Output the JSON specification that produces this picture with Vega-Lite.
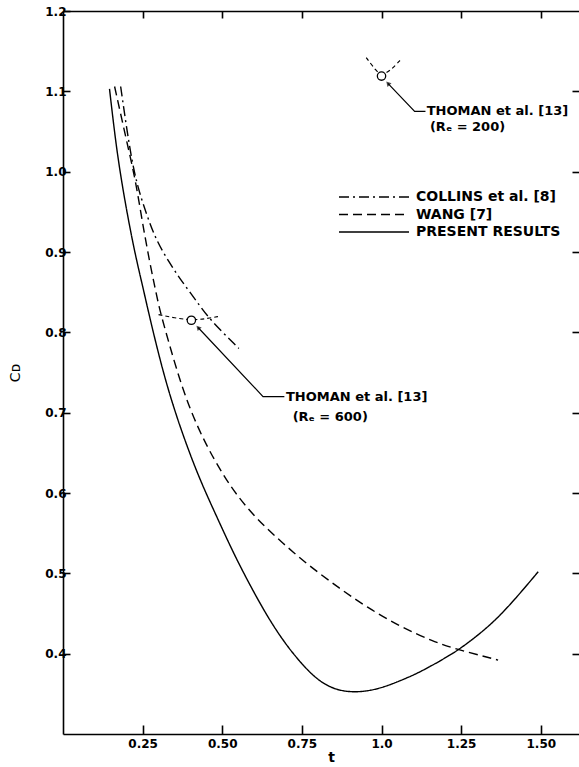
{
  "$schema": "https://vega.github.io/schema/vega-lite/v6.json",
  "autosize": {"type": "none"},
  "padding": {"left": 63, "top": 11, "right": 0, "bottom": 33},
  "width": 516,
  "height": 723,
  "background": "white",
  "config": {
    "view": {"stroke": null},
    "font": "DejaVu Sans",
    "axis": {"domainColor": "black", "domainWidth": 1.6, "tickColor": "black", "tickWidth": 1.6, "labelColor": "black", "labelFontSize": 12, "labelFontWeight": "bold", "labelFont": "DejaVu Sans", "grid": false, "labelFlush": false, "labelOverlap": false, "titleColor": "black"}
  },
  "datasets": {
    "curves": [
      {"series": "PRESENT RESULTS", "t": 0.146, "cd": 1.103},
      {"series": "PRESENT RESULTS", "t": 0.167, "cd": 1.031},
      {"series": "PRESENT RESULTS", "t": 0.188, "cd": 0.978},
      {"series": "PRESENT RESULTS", "t": 0.209, "cd": 0.932},
      {"series": "PRESENT RESULTS", "t": 0.230, "cd": 0.891},
      {"series": "PRESENT RESULTS", "t": 0.251, "cd": 0.856},
      {"series": "PRESENT RESULTS", "t": 0.277, "cd": 0.810},
      {"series": "PRESENT RESULTS", "t": 0.324, "cd": 0.735},
      {"series": "PRESENT RESULTS", "t": 0.377, "cd": 0.671},
      {"series": "PRESENT RESULTS", "t": 0.429, "cd": 0.617},
      {"series": "PRESENT RESULTS", "t": 0.481, "cd": 0.572},
      {"series": "PRESENT RESULTS", "t": 0.534, "cd": 0.526},
      {"series": "PRESENT RESULTS", "t": 0.586, "cd": 0.486},
      {"series": "PRESENT RESULTS", "t": 0.639, "cd": 0.448},
      {"series": "PRESENT RESULTS", "t": 0.691, "cd": 0.416},
      {"series": "PRESENT RESULTS", "t": 0.743, "cd": 0.390},
      {"series": "PRESENT RESULTS", "t": 0.796, "cd": 0.368},
      {"series": "PRESENT RESULTS", "t": 0.848, "cd": 0.356},
      {"series": "PRESENT RESULTS", "t": 0.900, "cd": 0.352},
      {"series": "PRESENT RESULTS", "t": 0.953, "cd": 0.353},
      {"series": "PRESENT RESULTS", "t": 1.005, "cd": 0.358},
      {"series": "PRESENT RESULTS", "t": 1.057, "cd": 0.366},
      {"series": "PRESENT RESULTS", "t": 1.110, "cd": 0.375},
      {"series": "PRESENT RESULTS", "t": 1.162, "cd": 0.386},
      {"series": "PRESENT RESULTS", "t": 1.214, "cd": 0.398},
      {"series": "PRESENT RESULTS", "t": 1.250, "cd": 0.407},
      {"series": "PRESENT RESULTS", "t": 1.319, "cd": 0.428},
      {"series": "PRESENT RESULTS", "t": 1.371, "cd": 0.447},
      {"series": "PRESENT RESULTS", "t": 1.424, "cd": 0.470},
      {"series": "PRESENT RESULTS", "t": 1.492, "cd": 0.502},
      {"series": "WANG [7]", "t": 0.162, "cd": 1.106},
      {"series": "WANG [7]", "t": 0.201, "cd": 1.036},
      {"series": "WANG [7]", "t": 0.225, "cd": 0.994},
      {"series": "WANG [7]", "t": 0.241, "cd": 0.957},
      {"series": "WANG [7]", "t": 0.256, "cd": 0.922},
      {"series": "WANG [7]", "t": 0.272, "cd": 0.888},
      {"series": "WANG [7]", "t": 0.288, "cd": 0.857},
      {"series": "WANG [7]", "t": 0.303, "cd": 0.829},
      {"series": "WANG [7]", "t": 0.319, "cd": 0.806},
      {"series": "WANG [7]", "t": 0.356, "cd": 0.754},
      {"series": "WANG [7]", "t": 0.398, "cd": 0.704},
      {"series": "WANG [7]", "t": 0.450, "cd": 0.659},
      {"series": "WANG [7]", "t": 0.502, "cd": 0.623},
      {"series": "WANG [7]", "t": 0.544, "cd": 0.598},
      {"series": "WANG [7]", "t": 0.607, "cd": 0.568},
      {"series": "WANG [7]", "t": 0.691, "cd": 0.537},
      {"series": "WANG [7]", "t": 0.774, "cd": 0.509},
      {"series": "WANG [7]", "t": 0.869, "cd": 0.481},
      {"series": "WANG [7]", "t": 0.953, "cd": 0.458},
      {"series": "WANG [7]", "t": 1.057, "cd": 0.434},
      {"series": "WANG [7]", "t": 1.162, "cd": 0.415},
      {"series": "WANG [7]", "t": 1.240, "cd": 0.405},
      {"series": "WANG [7]", "t": 1.319, "cd": 0.397},
      {"series": "WANG [7]", "t": 1.366, "cd": 0.392},
      {"series": "COLLINS et al. [8]", "t": 0.181, "cd": 1.106},
      {"series": "COLLINS et al. [8]", "t": 0.207, "cd": 1.034},
      {"series": "COLLINS et al. [8]", "t": 0.230, "cd": 0.986},
      {"series": "COLLINS et al. [8]", "t": 0.262, "cd": 0.947},
      {"series": "COLLINS et al. [8]", "t": 0.293, "cd": 0.914},
      {"series": "COLLINS et al. [8]", "t": 0.335, "cd": 0.886},
      {"series": "COLLINS et al. [8]", "t": 0.372, "cd": 0.864},
      {"series": "COLLINS et al. [8]", "t": 0.419, "cd": 0.839},
      {"series": "COLLINS et al. [8]", "t": 0.460, "cd": 0.816},
      {"series": "COLLINS et al. [8]", "t": 0.552, "cd": 0.780}
    ],
    "arcs": [
      {"id": "Re600", "t": 0.300, "cd": 0.822},
      {"id": "Re600", "t": 0.350, "cd": 0.818},
      {"id": "Re600", "t": 0.403, "cd": 0.815},
      {"id": "Re600", "t": 0.450, "cd": 0.817},
      {"id": "Re600", "t": 0.492, "cd": 0.820},
      {"id": "Re200", "t": 0.952, "cd": 1.142},
      {"id": "Re200", "t": 0.984, "cd": 1.125},
      {"id": "Re200", "t": 1.000, "cd": 1.120},
      {"id": "Re200", "t": 1.026, "cd": 1.125},
      {"id": "Re200", "t": 1.062, "cd": 1.140}
    ],
    "arrows": [
      {"id": "a600", "t": 0.424, "cd": 0.806},
      {"id": "a600", "t": 0.628, "cd": 0.720},
      {"id": "a600", "t": 0.695, "cd": 0.720},
      {"id": "a200", "t": 1.020, "cd": 1.110},
      {"id": "a200", "t": 1.104, "cd": 1.075},
      {"id": "a200", "t": 1.138, "cd": 1.075}
    ],
    "heads": [
      {"t": 0.424, "cd": 0.806},
      {"t": 1.020, "cd": 1.110}
    ],
    "points": [
      {"t": 0.403, "cd": 0.815},
      {"t": 1.000, "cd": 1.119}
    ],
    "labels": [
      {"text": "THOMAN et al. [13]", "t": 0.700, "cd": 0.720},
      {"text": "(Rₑ = 600)", "t": 0.721, "cd": 0.694},
      {"text": "THOMAN et al. [13]", "t": 1.142, "cd": 1.075},
      {"text": "(Rₑ = 200)", "t": 1.152, "cd": 1.056}
    ]
  },
  "resolve": {"axis": {"x": "independent", "y": "independent"}},
  "layer": [
    {
      "data": {"name": "curves"},
      "mark": {"type": "line", "color": "black", "strokeWidth": 1.4, "interpolate": "basis"},
      "encoding": {
        "x": {"field": "t", "type": "quantitative", "scale": {"domain": [0, 1.62], "nice": false, "zero": false},
          "axis": {"orient": "bottom", "values": [0.25, 0.5, 0.75, 1, 1.25, 1.5], "labelExpr": "datum.value == 1 ? '1.0' : format(datum.value, '.2f')", "tickSize": -9, "labelPadding": 13, "title": "t", "titleFontSize": 14, "titleFontWeight": "bold", "titleX": 268, "titlePadding": 1}},
        "y": {"field": "cd", "type": "quantitative", "scale": {"domain": [0.3, 1.2], "nice": false, "zero": false},
          "axis": {"orient": "left", "values": [0.4, 0.5, 0.6, 0.7, 0.8, 0.9, 1.0, 1.1, 1.2], "format": ".1f", "tickSize": -7, "labelPadding": 4, "title": "Cᴅ", "titleFontSize": 14, "titleFontWeight": "normal", "titlePadding": 22}},
        "strokeDash": {"field": "series", "type": "nominal",
          "scale": {"domain": ["COLLINS et al. [8]", "WANG [7]", "PRESENT RESULTS"], "range": [[10, 4, 2, 4], [9, 5], [1, 0]]},
          "legend": {"orient": "none", "legendX": 268, "legendY": 178, "title": null, "symbolType": "M0,0H10", "symbolSize": 196, "symbolStrokeColor": "black", "symbolFillColor": "transparent", "symbolStrokeWidth": 1.4, "labelFontSize": 14, "labelFontWeight": "bold", "labelOffset": 69, "rowPadding": 2.5, "padding": 0, "labelColor": "black", "labelFont": "DejaVu Sans", "labelLimit": 400}}
      }
    },
    {
      "data": {"name": "arcs"},
      "mark": {"type": "line", "color": "black", "strokeWidth": 1.2, "strokeDash": [4, 3], "interpolate": "basis"},
      "encoding": {
        "x": {"field": "t", "type": "quantitative", "axis": {"orient": "top", "labels": false, "title": null, "tickSize": -7, "values": [0.25, 0.5, 0.75, 1, 1.25, 1.5]}},
        "y": {"field": "cd", "type": "quantitative", "axis": {"orient": "right", "labels": false, "title": null, "domain": false, "tickSize": -7, "values": [0.4, 0.5, 0.6, 0.7, 0.8, 0.9, 1.0, 1.1]}},
        "detail": {"field": "id"}
      }
    },
    {
      "data": {"name": "arrows"},
      "mark": {"type": "line", "color": "black", "strokeWidth": 1.2},
      "encoding": {
        "x": {"field": "t", "type": "quantitative", "axis": null},
        "y": {"field": "cd", "type": "quantitative", "axis": null},
        "detail": {"field": "id"}
      }
    },
    {
      "data": {"name": "heads"},
      "mark": {"type": "point", "shape": "triangle-up", "filled": true, "color": "black", "size": 30, "angle": 317},
      "encoding": {
        "x": {"field": "t", "type": "quantitative", "axis": null},
        "y": {"field": "cd", "type": "quantitative", "axis": null}
      }
    },
    {
      "data": {"name": "points"},
      "mark": {"type": "point", "shape": "circle", "filled": false, "fill": "white", "stroke": "black", "strokeWidth": 1.3, "size": 70, "opacity": 1},
      "encoding": {
        "x": {"field": "t", "type": "quantitative", "axis": null},
        "y": {"field": "cd", "type": "quantitative", "axis": null}
      }
    },
    {
      "data": {"name": "labels"},
      "mark": {"type": "text", "align": "left", "baseline": "middle", "fontSize": 13, "fontWeight": "bold", "font": "DejaVu Sans", "color": "black"},
      "encoding": {
        "x": {"field": "t", "type": "quantitative", "axis": null},
        "y": {"field": "cd", "type": "quantitative", "axis": null},
        "text": {"field": "text"}
      }
    }
  ]
}
